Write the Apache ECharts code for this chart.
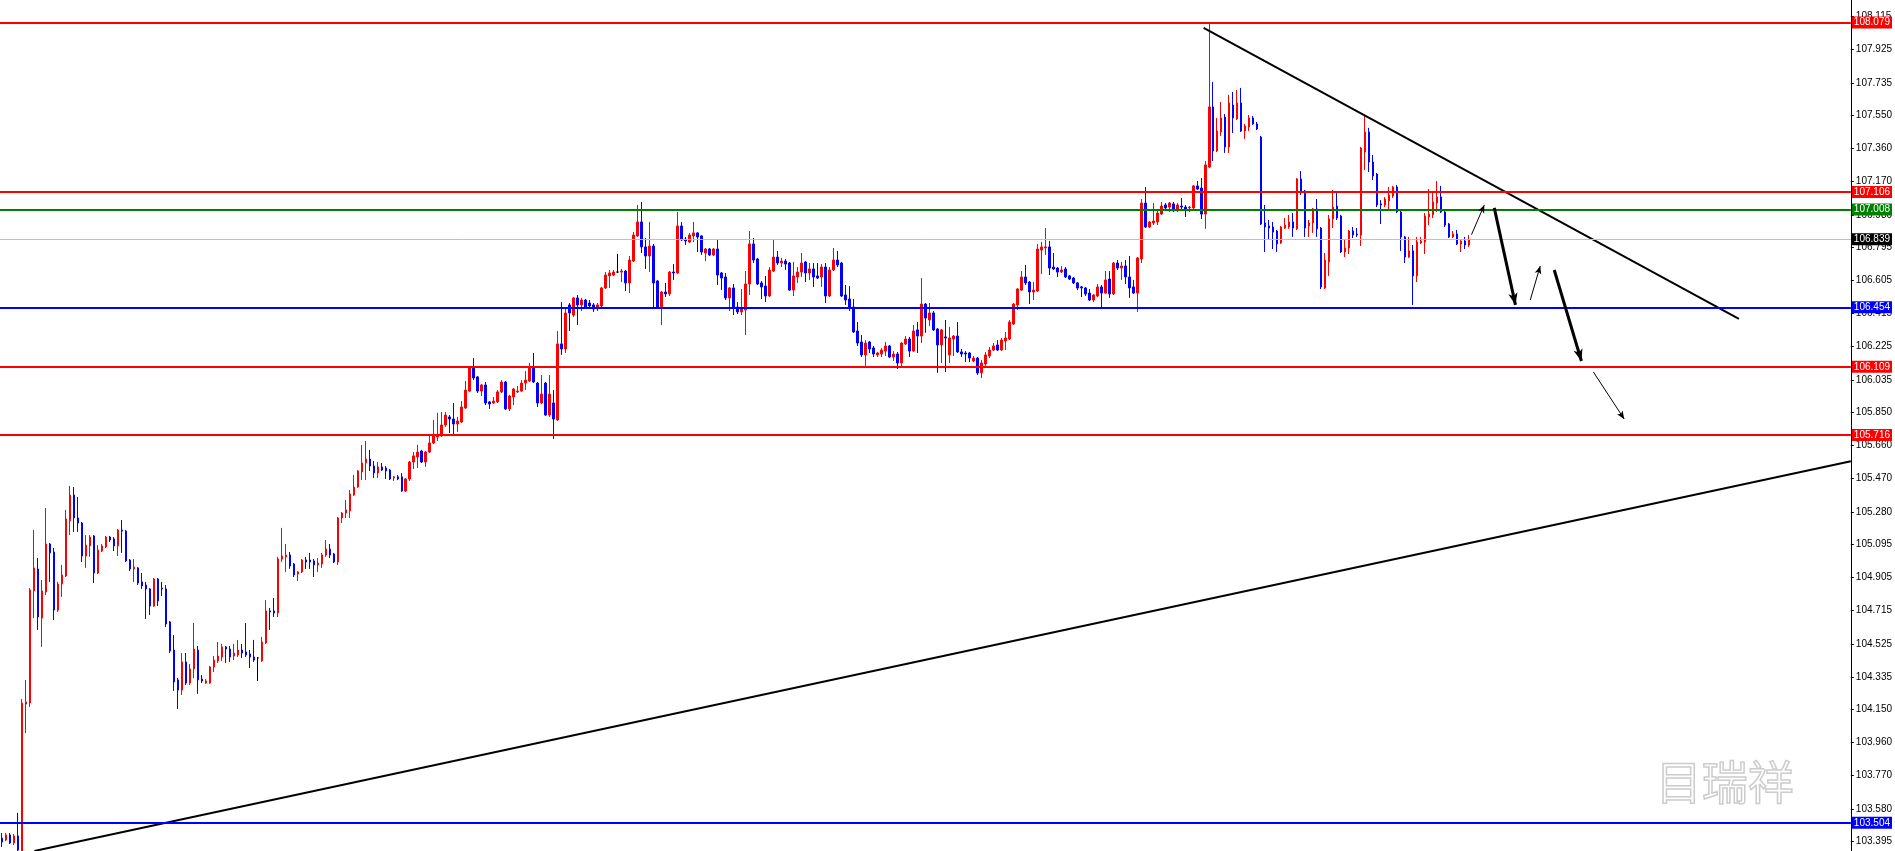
<!DOCTYPE html>
<html><head><meta charset="utf-8">
<script src="https://cdn.jsdelivr.net/npm/echarts@6/dist/echarts.min.js"></script>
<style>html,body{margin:0;padding:0;background:#fff;overflow:hidden}#c{width:1895px;height:851px}</style>
</head><body><div id="c"></div>
<script>
// ---- candle data ----
const opens = [
103.413,103.402,103.431,103.385,103.425,103.330,104.180,104.186,104.827,104.953,
104.672,104.821,105.096,105.050,104.718,104.867,104.913,105.228,105.376,105.245,
105.216,105.027,105.085,105.142,104.930,105.056,105.079,105.136,105.125,105.085,
105.176,105.170,105.004,104.953,104.959,104.879,104.861,104.839,104.741,104.896,
104.844,104.839,104.650,104.489,104.318,104.260,104.421,104.300,104.381,104.489,
104.323,104.300,104.300,104.392,104.427,104.449,104.507,104.495,104.455,104.461,
104.489,104.478,104.467,104.449,104.444,104.427,104.530,104.713,104.713,104.701,
105.010,105.022,105.033,104.981,104.924,104.936,105.004,105.004,104.999,104.976,
104.981,105.033,105.067,105.039,104.993,105.245,105.273,105.285,105.376,105.422,
105.508,105.560,105.582,105.542,105.502,105.537,105.531,105.519,105.474,105.480,
105.480,105.399,105.468,105.565,105.594,105.628,105.565,105.622,105.674,105.708,
105.714,105.777,105.823,105.811,105.783,105.794,105.874,105.971,106.109,106.052,
105.971,106.006,105.909,105.903,105.909,105.966,106.023,105.869,105.937,105.966,
105.971,106.017,106.029,106.109,106.017,105.903,106.017,105.834,105.903,105.806,
106.241,106.212,106.464,106.406,106.504,106.464,106.492,106.475,106.464,106.441,
106.458,106.561,106.630,106.635,106.652,106.652,106.658,106.590,106.715,106.859,
106.939,106.796,106.744,106.801,106.601,106.446,106.538,106.527,106.652,106.647,
106.916,106.841,106.824,106.859,106.876,106.859,106.761,106.784,106.750,106.784,
106.647,106.624,106.504,106.561,106.452,106.424,106.435,106.584,106.813,106.727,
106.590,106.572,106.515,106.658,106.738,106.704,106.715,106.704,106.549,106.624,
106.652,106.710,106.647,106.670,106.630,106.624,106.681,106.515,106.664,106.721,
106.704,106.521,106.498,106.452,106.315,106.252,106.178,106.252,106.218,106.178,
106.183,106.200,106.229,106.166,106.183,106.132,106.241,106.269,106.200,106.321,
106.286,106.469,106.378,106.418,106.326,106.235,106.281,106.178,106.269,106.286,
106.195,106.189,106.189,106.143,106.160,106.075,106.126,106.172,106.206,106.235,
106.206,106.258,106.269,106.355,106.464,106.549,106.624,106.595,106.538,106.544,
106.778,106.790,106.796,106.681,106.675,106.652,106.670,106.630,106.618,106.590,
106.567,106.561,106.532,106.492,106.515,106.567,106.532,106.612,106.527,106.704,
106.675,106.687,106.624,106.567,106.532,106.727,107.047,106.910,106.933,106.939,
106.984,107.036,107.024,107.042,107.002,107.030,107.024,107.019,107.019,107.145,
107.133,106.984,107.253,107.597,107.345,107.454,107.539,107.368,107.608,107.528,
107.620,107.459,107.482,107.534,107.500,107.425,106.933,106.916,106.910,106.887,
106.818,106.904,106.910,106.939,106.899,107.185,107.116,106.916,106.933,107.013,
106.904,106.561,106.710,106.956,107.030,106.973,106.767,106.790,106.887,106.870,
106.864,107.339,107.454,107.282,107.213,107.042,107.036,107.059,107.087,107.139,
106.996,106.853,106.738,106.773,106.630,106.818,106.824,106.967,106.979,107.047,
107.082,106.996,106.927,106.853,106.870,106.813,106.830,106.807];
const closes = [
103.390,103.431,103.385,103.425,103.345,104.186,104.192,104.833,104.959,104.678,
104.827,105.096,105.045,104.718,104.867,104.919,105.239,105.376,105.245,105.216,
105.027,105.090,105.136,104.930,105.062,105.085,105.136,105.119,105.085,105.176,
105.170,104.999,104.953,104.964,104.873,104.856,104.839,104.741,104.896,104.770,
104.839,104.638,104.484,104.306,104.260,104.421,104.300,104.381,104.495,104.318,
104.312,104.312,104.392,104.432,104.455,104.507,104.495,104.449,104.472,104.489,
104.472,104.461,104.449,104.432,104.444,104.535,104.713,104.707,104.701,105.010,
105.027,105.033,104.970,104.919,104.936,105.004,104.993,104.993,104.976,104.987,
105.033,105.067,105.033,104.993,105.245,105.273,105.291,105.382,105.422,105.514,
105.560,105.582,105.542,105.502,105.537,105.519,105.514,105.468,105.480,105.468,
105.399,105.468,105.565,105.600,105.622,105.565,105.622,105.674,105.714,105.720,
105.777,105.834,105.811,105.783,105.800,105.880,105.977,106.109,106.046,105.971,
106.006,105.903,105.897,105.914,105.966,106.023,105.869,105.943,105.983,105.971,
106.017,106.034,106.109,106.023,105.903,105.954,105.834,105.954,105.811,106.241,
106.212,106.418,106.418,106.504,106.464,106.492,106.452,106.458,106.441,106.464,
106.561,106.635,106.647,106.652,106.652,106.658,106.590,106.721,106.864,106.939,
106.796,106.744,106.801,106.590,106.446,106.538,106.527,106.652,106.647,106.916,
106.836,106.830,106.864,106.876,106.853,106.767,106.784,106.750,106.784,106.635,
106.618,106.504,106.561,106.446,106.424,106.441,106.584,106.813,106.721,106.584,
106.567,106.515,106.664,106.738,106.704,106.715,106.698,106.549,106.630,106.652,
106.704,106.647,106.670,106.624,106.618,106.681,106.515,106.664,106.721,106.693,
106.515,106.492,106.452,106.309,106.246,106.178,106.246,106.212,106.183,106.189,
106.206,106.229,106.166,106.183,106.132,106.246,106.269,106.200,106.315,106.286,
106.469,106.389,106.418,106.321,106.235,106.321,106.275,106.275,106.286,106.195,
106.183,106.183,106.160,106.160,106.075,106.132,106.178,106.206,106.229,106.206,
106.263,106.275,106.366,106.469,106.555,106.624,106.590,106.538,106.549,106.784,
106.796,106.796,106.675,106.670,106.652,106.664,106.624,106.612,106.590,106.561,
106.561,106.527,106.492,106.521,106.567,106.532,106.607,106.527,106.704,106.675,
106.687,106.624,106.561,106.532,106.733,107.047,106.910,106.939,106.944,106.990,
107.030,107.019,107.047,107.002,107.036,107.024,107.007,107.024,107.145,107.127,
106.984,107.265,107.597,107.345,107.459,107.534,107.368,107.620,107.534,107.620,
107.459,107.488,107.534,107.500,107.471,106.927,106.910,106.904,106.881,106.813,
106.910,106.921,106.939,106.904,107.185,107.105,106.904,106.933,107.013,106.899,
106.567,106.721,106.956,107.024,106.961,106.767,106.790,106.887,106.864,106.864,
107.362,107.454,107.282,107.202,107.036,107.036,107.070,107.093,107.139,106.996,
106.853,106.738,106.773,106.630,106.824,106.830,106.973,106.984,107.053,107.082,
106.996,106.921,106.853,106.870,106.813,106.830,106.807,106.839];
const lows = [
103.362,103.396,103.379,103.373,103.339,103.310,104.014,104.163,104.672,104.604,
104.507,104.804,104.879,104.661,104.707,104.793,104.907,105.147,105.165,105.165,
104.993,104.959,105.022,104.873,104.924,105.050,105.073,105.107,105.056,105.027,
105.045,104.993,104.941,104.879,104.861,104.839,104.667,104.690,104.736,104.741,
104.798,104.621,104.472,104.255,104.152,104.232,104.289,104.289,104.329,104.238,
104.300,104.295,104.295,104.363,104.415,104.427,104.415,104.421,104.432,104.449,
104.444,104.449,104.386,104.421,104.312,104.421,104.524,104.604,104.678,104.678,
104.993,104.936,104.953,104.907,104.884,104.930,104.953,104.953,104.907,104.936,
104.959,105.022,105.016,104.987,104.976,105.216,105.245,105.245,105.371,105.417,
105.462,105.462,105.514,105.474,105.474,105.514,105.468,105.462,105.457,105.462,
105.394,105.394,105.457,105.525,105.531,105.560,105.537,105.617,105.668,105.685,
105.708,105.766,105.731,105.720,105.737,105.788,105.869,105.966,106.034,105.960,
105.943,105.891,105.869,105.897,105.903,105.960,105.863,105.857,105.891,105.960,
105.966,105.977,106.023,106.017,105.880,105.897,105.829,105.823,105.697,105.800,
106.178,106.189,106.315,106.395,106.349,106.429,106.441,106.452,106.424,106.429,
106.452,106.555,106.561,106.630,106.647,106.595,106.544,106.532,106.710,106.853,
106.761,106.670,106.652,106.446,106.441,106.349,106.509,106.515,106.607,106.641,
106.830,106.807,106.818,106.824,106.767,106.750,106.715,106.744,106.744,106.578,
106.549,106.492,106.429,106.406,106.412,106.406,106.292,106.521,106.704,106.578,
106.498,106.481,106.509,106.652,106.693,106.681,106.664,106.544,106.515,106.590,
106.624,106.595,106.607,106.567,106.612,106.567,106.475,106.509,106.658,106.681,
106.509,106.464,106.429,106.304,106.229,106.166,106.115,106.189,106.166,106.166,
106.166,106.172,106.160,106.143,106.097,106.103,106.235,106.166,106.195,106.189,
106.246,106.304,106.343,106.315,106.075,106.132,106.080,106.132,106.172,106.189,
106.166,106.137,106.137,106.137,106.063,106.046,106.115,106.160,106.200,106.200,
106.200,106.206,106.263,106.349,106.435,106.544,106.578,106.469,106.492,106.538,
106.641,106.750,106.635,106.664,106.624,106.647,106.618,106.607,106.584,106.549,
106.509,106.515,106.486,106.481,106.509,106.446,106.527,106.504,106.521,106.664,
106.607,106.584,106.504,106.527,106.424,106.704,106.904,106.904,106.921,106.921,
106.979,107.002,106.996,106.996,106.996,107.013,106.967,106.996,107.013,107.122,
106.956,106.899,107.248,107.288,107.339,107.431,107.334,107.334,107.448,107.522,
107.454,107.414,107.459,107.494,107.465,106.921,106.767,106.836,106.784,106.767,
106.813,106.899,106.899,106.853,106.893,107.093,106.853,106.853,106.876,106.853,
106.555,106.555,106.630,106.904,106.950,106.761,106.738,106.755,106.847,106.853,
106.801,107.236,107.225,107.179,107.024,106.927,107.024,107.002,107.076,106.990,
106.773,106.704,106.733,106.464,106.595,106.813,106.755,106.921,106.961,106.996,
106.990,106.910,106.847,106.847,106.807,106.767,106.784,106.796];
const highs = [
103.442,103.442,103.442,103.436,103.557,104.209,104.318,104.844,105.176,105.016,
104.890,105.302,105.102,105.073,104.879,104.976,105.291,105.428,105.422,105.365,
105.222,105.147,105.147,105.147,105.090,105.096,105.142,105.142,105.136,105.182,
105.233,105.176,105.010,105.010,104.964,104.930,104.879,104.844,104.901,104.901,
104.879,104.861,104.655,104.575,104.329,104.472,104.472,104.409,104.644,104.512,
104.346,104.323,104.398,104.455,104.535,104.524,104.512,104.512,104.524,104.547,
104.524,104.644,104.489,104.547,104.449,104.564,104.775,104.730,104.787,105.022,
105.188,105.096,105.050,104.987,104.941,105.010,105.022,105.045,105.010,105.016,
105.045,105.119,105.096,105.045,105.251,105.279,105.348,105.405,105.491,105.519,
105.663,105.685,105.634,105.571,105.565,105.560,105.542,105.525,105.485,105.491,
105.502,105.474,105.571,105.622,105.663,105.634,105.628,105.714,105.806,105.846,
105.851,105.851,105.834,105.903,105.823,105.914,106.029,106.115,106.160,106.057,
106.012,106.023,105.914,105.937,105.977,106.034,106.029,105.949,105.989,106.000,
106.034,106.086,106.132,106.189,106.023,106.063,106.023,106.063,105.977,106.315,
106.481,106.446,106.475,106.509,106.521,106.504,106.498,106.492,106.475,106.475,
106.567,106.652,106.664,106.664,106.756,106.670,106.664,106.744,106.881,107.036,
107.053,106.847,106.939,106.813,106.607,106.544,106.590,106.658,106.698,106.996,
106.939,106.853,106.876,106.939,106.881,106.864,106.790,106.790,106.790,106.836,
106.652,106.647,106.567,106.584,106.481,106.555,106.658,106.887,106.847,106.733,
106.601,106.630,106.681,106.841,106.773,106.733,106.727,106.710,106.710,106.681,
106.761,106.715,106.704,106.704,106.704,106.698,106.704,106.681,106.790,106.773,
106.710,106.578,106.572,106.498,106.366,106.292,106.263,106.258,106.229,106.195,
106.218,106.252,106.235,106.200,106.195,106.252,106.286,106.281,106.349,106.366,
106.618,106.475,106.475,106.429,106.332,106.326,106.378,106.338,106.292,106.366,
106.212,106.200,106.195,106.172,106.166,106.149,106.195,106.223,106.246,106.263,
106.275,106.309,106.378,106.475,106.561,106.658,106.693,106.601,106.595,106.813,
106.824,106.904,106.830,106.761,106.681,106.687,106.681,106.635,106.624,106.595,
106.572,106.567,106.555,106.527,106.584,106.578,106.658,106.658,106.710,106.721,
106.710,106.721,106.744,106.607,106.738,107.070,107.139,106.944,107.047,107.013,
107.053,107.047,107.053,107.053,107.047,107.076,107.036,107.030,107.150,107.173,
107.190,107.288,108.079,107.740,107.534,107.625,107.557,107.666,107.683,107.694,
107.706,107.500,107.551,107.545,107.511,107.431,107.036,106.950,106.939,106.893,
106.916,106.961,106.979,106.990,107.190,107.230,107.122,106.950,107.019,107.070,
106.910,106.761,106.979,107.122,107.110,106.979,106.841,106.893,106.910,106.904,
107.368,107.551,107.477,107.322,107.219,107.064,107.082,107.139,107.145,107.150,
107.002,106.859,106.853,106.807,106.853,106.853,106.990,107.127,107.105,107.173,
107.145,107.002,106.933,106.887,106.893,106.836,106.853,106.864];

// ---- axis ----
const yTicks = [108.115,107.925,107.735,107.550,107.360,107.170,106.980,106.795,106.605,106.415,106.225,106.035,105.850,105.660,105.470,105.280,105.095,104.905,104.715,104.525,104.335,104.150,103.960,103.770,103.580,103.395];
const yMin = 103.339, yMax = 108.209;
const slotCount = 463;  // bar slots across the chart width

// ---- horizontal price levels ----
const levelValues = [108.079, 107.106, 107.008, 106.839, 106.454, 106.109, 105.716, 103.504];
const levelColors = ['#FF0000','#FF0000','#008000','#C0C0C0','#0000FF','#FF0000','#FF0000','#0000FF'];
const levelLabelBg = ['#FF0000','#FF0000','#008000','#000000','#0000FF','#FF0000','#FF0000','#0000FF'];
const levelWidths = [2,2,2,1,2,2,2,2];

// ---- trend lines [barIndex, price] ----
const downTrend = [[300.6, 108.049], [434.5, 106.384]];
const upTrend = [[8.1, 103.339], [462.5, 105.570]];

// ---- arrows ----
const arrowFrom = [[367.6,106.866],[373.3,107.019],[382.3,106.492],[388.3,106.664],[398.1,106.080]];
const arrowTo   = [[370.8,107.036],[378.6,106.464],[384.8,106.687],[395.1,106.143],[405.8,105.811]];
const arrowThick = [false, true, false, true, false];

const watermark = '目瑞祥';

const cats = Array.from({length: slotCount}, (_, i) => String(i));
const ohlc = opens.map((o, i) => [o, closes[i], lows[i], highs[i]]);

const chart = echarts.init(document.getElementById('c'), null, {renderer: 'canvas'});
const levelLines = levelValues.map((v, i) => ({
  yAxis: v,
  lineStyle: {color: levelColors[i], width: levelWidths[i], type: 'solid'},
  label: {show: true, position: 'end', distance: 1, formatter: v.toFixed(3),
    backgroundColor: levelLabelBg[i], color: '#fff', fontSize: 10,
    fontFamily: 'Liberation Sans', padding: [1, 2, 1, 2]}
}));
const arrowLines = arrowFrom.map((f, i) => ([
  {coord: f, symbol: 'none'},
  {coord: arrowTo[i], symbol: 'arrow', symbolSize: arrowThick[i] ? [7, 12] : [5, 8],
   lineStyle: {color: '#000', width: arrowThick[i] ? 3 : 1, type: 'solid'}}
]));

chart.setOption({
  animation: false,
  backgroundColor: '#fff',
  grid: {left: -1.5, right: 43, top: 0, bottom: 0},
  xAxis: [
    {type: 'category', data: cats, boundaryGap: true, show: false},
    {type: 'value', min: -0.5, max: slotCount - 0.5, show: false}
  ],
  yAxis: {
    type: 'value', position: 'right', min: yMin, max: yMax,
    splitLine: {show: false},
    axisLine: {show: true, onZero: false, lineStyle: {color: '#000', width: 1}},
    axisTick: {show: true, length: 3, lineStyle: {color: '#000'}, customValues: yTicks},
    axisLabel: {show: true, customValues: yTicks, formatter: v => v.toFixed(3),
      color: '#000', fontSize: 10, fontFamily: 'Liberation Sans', margin: 5}
  },
  series: [
    {
      type: 'candlestick', xAxisIndex: 0, yAxisIndex: 0, data: ohlc, barWidth: 2,
      itemStyle: {color: '#FF0000', color0: '#0000FF', borderColor: '#FF0000', borderColor0: '#0000FF',
        borderColorDoji: '#000000', borderWidth: 1},
      markLine: {silent: true, symbol: ['none', 'none'], animation: false, data: levelLines},
      z: 3
    },
    {type: 'line', xAxisIndex: 1, data: downTrend, showSymbol: false, silent: true,
     lineStyle: {color: '#000', width: 2}, z: 4},
    {type: 'line', xAxisIndex: 1, data: upTrend, showSymbol: false, silent: true,
     lineStyle: {color: '#000', width: 2}, z: 4},
    {type: 'line', xAxisIndex: 1, data: [], silent: true, z: 5,
     markLine: {silent: true, animation: false, label: {show: false}, data: arrowLines}}
  ],
  graphic: [{
    type: 'text', left: 1655, top: 758, silent: true,
    style: {text: watermark, fill: 'rgba(0,0,0,0)', stroke: '#cccccc', lineWidth: 1.5,
      font: '46px "Noto Sans CJK SC"'}
  }]
});
</script>
</body></html>
